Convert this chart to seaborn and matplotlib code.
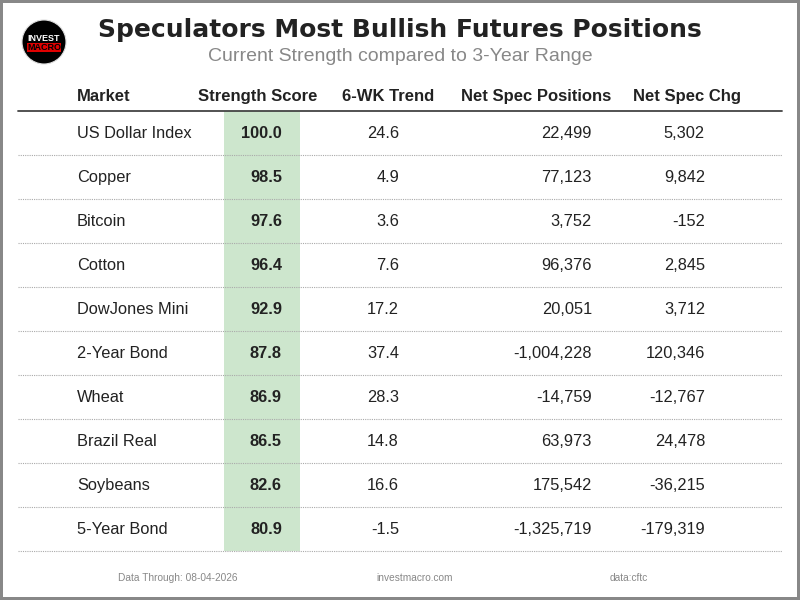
import matplotlib
matplotlib.use('Agg')
import matplotlib.pyplot as plt
from matplotlib.patches import Rectangle, Circle
import seaborn as sns

# Table data
markets = ['US Dollar Index', 'Copper', 'Bitcoin', 'Cotton', 'DowJones Mini',
           '2-Year Bond', 'Wheat', 'Brazil Real', 'Soybeans', '5-Year Bond']
strength = [100.0, 98.5, 97.6, 96.4, 92.9, 87.8, 86.9, 86.5, 82.6, 80.9]
trend_6wk = [24.6, 4.9, 3.6, 7.6, 17.2, 37.4, 28.3, 14.8, 16.6, -1.5]
net_positions = [22499, 77123, 3752, 96376, 20051, -1004228, -14759, 63973, 175542, -1325719]
net_change = [5302, 9842, -152, 2845, 3712, 120346, -12767, 24478, -36215, -179319]
headers = ['Market', 'Strength Score', '6-WK Trend', 'Net Spec Positions', 'Net Spec Chg']

title = 'Speculators Most Bullish Futures Positions'
subtitle = 'Current Strength compared to 3-Year Range'
footer = ['Data Through: 08-04-2026', 'investmacro.com', 'data:cftc']

sns.set_theme(style='white')
plt.rcParams['font.family'] = ['Liberation Sans', 'DejaVu Sans']

fig = plt.figure(figsize=(8, 6), dpi=100, facecolor='white',
                 edgecolor='#888888', linewidth=3)
ax = fig.add_axes([0, 0, 1, 1])
ax.set_xlim(0, 800)
ax.set_ylim(600, 0)
ax.axis('off')

# layout (pixel coords, y = text baseline)
top_line = 111
row_h = 44
n = len(markets)
bottom = top_line + row_h * n
fs = 11.8
txt = '#222222'
va = 'baseline'

# green strength column
ax.add_patch(Rectangle((224, top_line), 76, bottom - top_line,
                       facecolor='#cde6cd', edgecolor='none', zorder=0))

# header row
hdr_y = 101
hdr_x = [77, 258, 388, 536, 687]
hdr_ha = ['left', 'center', 'center', 'center', 'center']
for x, h, t in zip(hdr_x, hdr_ha, headers):
    ax.text(x, hdr_y, t, ha=h, va=va, fontsize=12, fontweight='bold', color=txt)
ax.plot([18, 782], [top_line, top_line], color='#444444', lw=1.3)

# rows
for i in range(n):
    y = top_line + row_h * i + 27
    ax.text(77, y, markets[i], ha='left', va=va, fontsize=fs, color=txt)
    ax.text(282, y, f'{strength[i]:.1f}', ha='right', va=va, fontsize=fs,
            fontweight='bold', color=txt)
    ax.text(399, y, f'{trend_6wk[i]:.1f}', ha='right', va=va, fontsize=fs, color=txt)
    ax.text(592, y, f'{net_positions[i]:,}', ha='right', va=va, fontsize=fs, color=txt)
    ax.text(705, y, f'{net_change[i]:,}', ha='right', va=va, fontsize=fs, color=txt)
    yl = top_line + row_h * (i + 1)
    ax.plot([18, 782], [yl, yl], color='#aaaaaa', lw=0.8, ls=(0, (1, 1)))

# title block
ax.text(400, 37, title, ha='center', va=va, fontsize=18, fontweight='bold',
        color=txt, family='DejaVu Sans')
ax.text(400, 61, subtitle, ha='center', va=va, fontsize=14, color='#888888')

# logo
ax.add_patch(Circle((44, 42), 22, facecolor='black', edgecolor='#dddddd', lw=0.8, zorder=2))
ax.text(44, 41, 'INVEST', ha='center', va=va, fontsize=6.5, fontweight='bold',
        color='white', zorder=3)
ax.add_patch(Rectangle((27, 43), 34, 8.5, facecolor='#e00000', edgecolor='none', zorder=3))
ax.text(44, 50.5, 'MACRO', ha='center', va=va, fontsize=6.5, fontweight='bold',
        color='black', zorder=4)

# footer
for x, t in zip([178, 415, 629], footer):
    ax.text(x, 581, t, ha='center', va=va, fontsize=7.3, color='#888888')

fig.savefig('out.png', dpi=100, facecolor='white', edgecolor='#888888')
